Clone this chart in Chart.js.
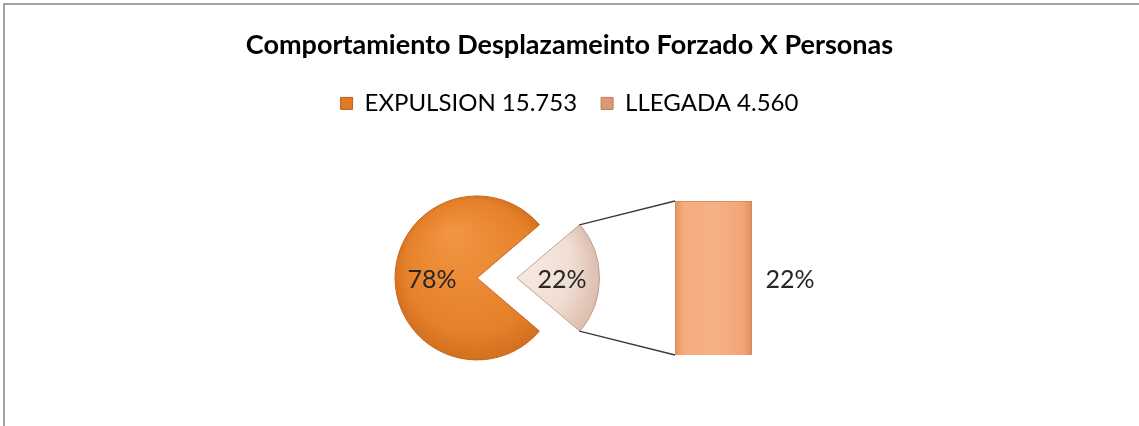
<!DOCTYPE html>
<html lang="es">
<head>
<meta charset="UTF-8">
<title>Comportamiento Desplazamiento Forzado X Personas</title>
<script src="https://cdn.jsdelivr.net/npm/chart.js@4/dist/chart.umd.min.js"></script>
<style>
    html, body { margin: 0; padding: 0; background: #fff; overflow: hidden; }
    #marco {
        position: absolute; left: 3px; top: 3px; width: 1300px; height: 600px;
        border-left: 2px solid #a3a3a3; border-top: 2px solid #a3a3a3;
    }
    canvas { position: absolute; left: 0; top: 0; }
</style>
</head>
<body>
<div id="marco"></div>
<canvas id="torta" width="1139" height="426"></canvas>
<canvas id="barra" width="1139" height="426"></canvas>

<script>
    // datos del grafico
    const titulo = 'Comportamiento Desplazameinto Forzado X Personas';
    const categorias = ['EXPULSION', 'LLEGADA'];
    const personas = [15753, 4560];

    const total = personas.reduce((a, b) => a + b, 0);
    const pct = v => Math.round(v / total * 100) + '%';
    const miles = v => String(v).replace(/\B(?=(\d{3})+(?!\d))/g, '.');

    const fuente = 'Lato, "Open Sans", sans-serif';

    // cajas vacias para mover el area del grafico sin mover titulo y leyenda
    const espaciador = {
        id: 'espaciador',
        beforeInit(chart, args, opts) {
            (opts.cajas || []).forEach(c => {
                Chart.layouts.addBox(chart, {
                    position: c.position, weight: 0, fullSize: false, options: {},
                    isHorizontal() { return c.position === 'top' || c.position === 'bottom'; },
                    update(maxW, maxH) {
                        if (this.isHorizontal()) { this.width = maxW; this.height = c.size; }
                        else { this.width = c.size; this.height = maxH; }
                    },
                    draw() {}
                });
            });
        }
    };

    // porcentajes dentro de la torta
    const etiquetasTorta = {
        id: 'etiquetasTorta',
        afterDatasetsDraw(chart) {
            const ctx = chart.ctx;
            ctx.save();
            ctx.font = '25px ' + fuente;
            ctx.fillStyle = '#262626';
            ctx.textAlign = 'center';
            ctx.textBaseline = 'middle';
            chart.getDatasetMeta(0).data.forEach((arc, i) => {
                const mid = (arc.startAngle + arc.endAngle) / 2;
                const d = (arc.options.offset || 0) / 4 + arc.outerRadius * 0.55;
                ctx.fillText(pct(personas[i]), arc.x + Math.cos(mid) * d, arc.y + Math.sin(mid) * d + 2);
            });
            ctx.restore();
        }
    };

    function rellenoTorta(c) {
        const area = c.chart.chartArea;
        const planos = ['#E8842C', '#F0DDD3'];
        if (!area) return planos[c.dataIndex];
        const cx = (area.left + area.right) / 2, cy = (area.top + area.bottom) / 2;
        const g = c.chart.ctx.createRadialGradient(cx - 25, cy - 45, 5, cx, cy, 86);
        if (c.dataIndex === 0) {
            g.addColorStop(0, '#F29440');
            g.addColorStop(0.75, '#E6802A');
            g.addColorStop(1, '#CF6E1E');
        } else {
            g.addColorStop(0, '#FBF1EC');
            g.addColorStop(0.7, '#F1DED3');
            g.addColorStop(1, '#D9BAA9');
        }
        return g;
    }

    const torta = new Chart(document.getElementById('torta'), {
        type: 'pie',
        data: {
            labels: categorias,
            datasets: [{
                data: personas,
                backgroundColor: rellenoTorta,
                borderColor: ['#C7681D', '#BFA090'],
                borderWidth: 1,
                offset: [0, 160]
            }]
        },
        options: {
            responsive: false,
            animation: false,
            radius: 82,
            rotation: 90 + personas[1] / total * 180,
            layout: { padding: 0 },
            plugins: {
                title: {
                    display: true,
                    text: titulo,
                    color: '#000',
                    font: { family: fuente, size: 27, weight: 'bold', lineHeight: 1.2 },
                    padding: { top: 29, bottom: 6 }
                },
                legend: {
                    position: 'top',
                    labels: {
                        boxWidth: 12,
                        boxHeight: 12,
                        padding: 24,
                        color: '#262626',
                        font: { family: fuente, size: 24 },
                        generateLabels: () => categorias.map((c, i) => ({
                            text: c + ' ' + miles(personas[i]),
                            fillStyle: ['#DF7B26', '#DB9A72'][i],
                            strokeStyle: ['#B8601A', '#B87E5A'][i],
                            lineWidth: 1,
                            hidden: false,
                            index: i
                        }))
                    }
                },
                tooltip: { enabled: false },
                espaciador: {
                    cajas: [
                        { position: 'right', size: 185 },
                        { position: 'top', size: 4.5 }
                    ]
                }
            }
        },
        plugins: [espaciador, etiquetasTorta]
    });

    // lineas de union y porcentaje de la barra
    const uniones = {
        id: 'uniones',
        afterDatasetsDraw(chart) {
            const ctx = chart.ctx;
            const arc = torta.getDatasetMeta(0).data[1];
            const bar = chart.getDatasetMeta(0).data[0];
            const mid = (arc.startAngle + arc.endAngle) / 2;
            const s = (arc.options.offset || 0) / 4;
            const vx = arc.x + Math.cos(mid) * s, vy = arc.y + Math.sin(mid) * s;
            const r = arc.outerRadius;
            const izq = bar.x - bar.width / 2;
            ctx.save();
            ctx.strokeStyle = '#3a3a3a';
            ctx.lineWidth = 1.3;
            ctx.beginPath();
            ctx.moveTo(vx + Math.cos(arc.startAngle) * r, vy + Math.sin(arc.startAngle) * r);
            ctx.lineTo(izq, bar.y);
            ctx.moveTo(vx + Math.cos(arc.endAngle) * r, vy + Math.sin(arc.endAngle) * r);
            ctx.lineTo(izq, bar.base);
            ctx.stroke();
            ctx.font = '25px ' + fuente;
            ctx.fillStyle = '#262626';
            ctx.textAlign = 'center';
            ctx.textBaseline = 'middle';
            ctx.fillText(pct(personas[1]), bar.x + bar.width / 2 + 38, (bar.y + bar.base) / 2 + 2);
            ctx.restore();
        }
    };

    function rellenoBarra(c) {
        const area = c.chart.chartArea;
        if (!area) return '#F4A97C';
        const g = c.chart.ctx.createLinearGradient(area.left, 0, area.right, 0);
        g.addColorStop(0, '#E5965F');
        g.addColorStop(0.12, '#F4AB7E');
        g.addColorStop(0.5, '#F6B086');
        g.addColorStop(0.88, '#F2A677');
        g.addColorStop(1, '#DF905C');
        return g;
    }

    new Chart(document.getElementById('barra'), {
        type: 'bar',
        data: {
            labels: [categorias[1]],
            datasets: [{
                data: [personas[1]],
                backgroundColor: rellenoBarra,
                borderColor: '#D08656',
                borderWidth: 1,
                barPercentage: 1,
                categoryPercentage: 1
            }]
        },
        options: {
            responsive: false,
            animation: false,
            layout: { padding: { left: 675, right: 387, top: 201, bottom: 71 } },
            scales: {
                x: { display: false },
                y: { display: false, min: 0, max: personas[1] }
            },
            plugins: {
                legend: { display: false },
                title: { display: false },
                tooltip: { enabled: false }
            }
        },
        plugins: [uniones]
    });
</script>
</body>
</html>
